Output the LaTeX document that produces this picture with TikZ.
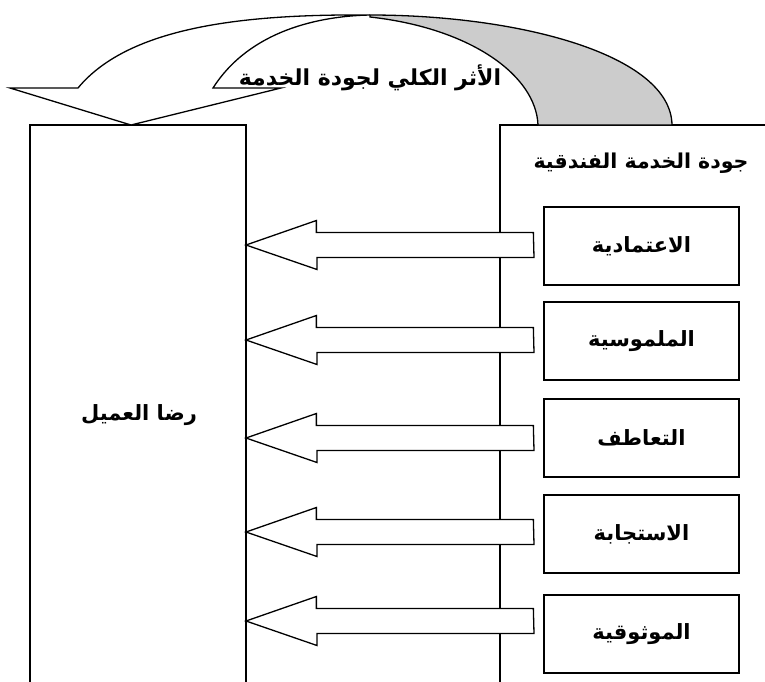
\documentclass[tikz,border=0pt]{standalone}
\usepackage{fontspec}
\newfontfamily\arabicfont[Script=Arabic]{DejaVu Sans}
\TeXXeTstate=1
\definecolor{ribbongray}{RGB}{204,204,204}
\begin{document}
\begin{tikzpicture}[x=1pt,y=-1pt,line width=1.3pt,line join=miter,
  lbl/.style={font=\arabicfont\bfseries\fontsize{21}{24}\selectfont,inner sep=0pt},
  smallbox/.style={draw,minimum width=195pt,minimum height=78pt,inner sep=0pt,
    font=\arabicfont\bfseries\fontsize{21}{24}\selectfont},
  blockarrow/.style={draw,fill=white}]
\useasboundingbox (0,0) rectangle (765,681);
\clip (0,0) rectangle (765,681);
% main boxes (open at bottom / right)
\draw (30,700) -- (30,125) -- (246,125) -- (246,700);
\draw (500,700) -- (500,125) -- (770,125);
\coordinate (leftedge) at (246,125);
\node[lbl] (rida) at (139,415) {\beginR رضا العميل\endR};
\node[lbl,font=\arabicfont\bfseries\fontsize{20.5}{24}\selectfont] (quality) at (641,163) {\beginR جودة الخدمة الفندقية\endR};
% small boxes
\node[smallbox] (b1) at (641.5,246) {\beginR الاعتمادية\endR};
\node[smallbox] (b2) at (641.5,341) {\beginR الملموسية\endR};
\node[smallbox] (b3) at (641.5,438) {\beginR التعاطف\endR};
\node[smallbox] (b4) at (641.5,534) {\beginR الاستجابة\endR};
\node[smallbox] (b5) at (641.5,634) {\beginR الموثوقية\endR};
% block arrows from small boxes to the left box
\foreach \b/\y in {b1/245,b2/340,b3/438,b4/532,b5/621}{
  \coordinate (t\b) at (leftedge |- 0,\y);
  \draw[blockarrow] ([xshift=-10pt]\b.west |- 0,\y) ++(0,-12.5)
    -- ++(-217,0) -- ++(0,-12) -- (t\b) -- ++(71,24.5) -- ++(0,-12)
    -- ++(217,0) -- cycle;
}
% curved arrow on top
\fill[ribbongray,draw=black] (370,15) .. controls (520,15) and (671,55) .. (672,125)
  -- (538,125) .. controls (536,75) and (470,28) .. (370,17) -- cycle;
\draw[fill=white] (78,88) .. controls (130,25) and (250,14) .. (370,15)
  .. controls (320,16) and (250,30) .. (213,88)
  -- (281,88) -- (131,125) -- (10,88) -- cycle;
\node[lbl,font=\arabicfont\bfseries\fontsize{22}{24}\selectfont] (overall) at (370,78) {\beginR الأثر الكلي لجودة الخدمة\endR};
\end{tikzpicture}
\end{document}
